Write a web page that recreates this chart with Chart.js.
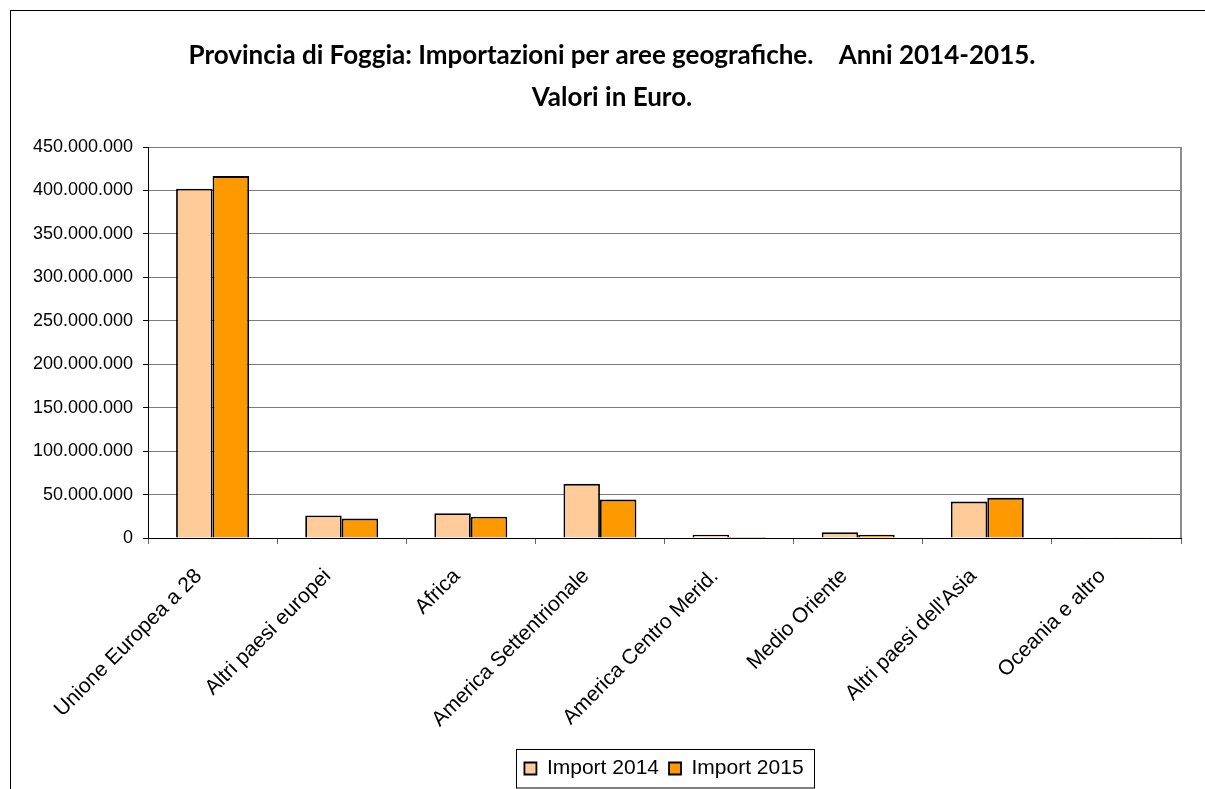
<!DOCTYPE html>
<html>
<head>
<meta charset="utf-8">
<script src="https://cdn.jsdelivr.net/npm/chart.js@4"></script>
<style>
 html,body{margin:0;padding:0;background:#fff;overflow:hidden}
 #frame{position:absolute;left:10px;top:10px;width:1210px;height:800px;border:1px solid #000;box-sizing:border-box}
 #wrap{position:absolute;left:0;top:0;width:1205px;height:789px}
</style>
</head>
<body>
<div id="frame"></div>
<div id="wrap"><canvas id="c" width="1205" height="789"></canvas></div>
<script>
const categories=['Unione Europea a 28','Altri paesi europei','Africa','America Settentrionale','America Centro Merid.','Medio Oriente',"Altri paesi dell'Asia",'Oceania e altro'];
const import2014=[402000000,26000000,28500000,62300000,3800000,6500000,41900000,200000];
const import2015=[416500000,22300000,24600000,44200000,100000,3800000,46200000,150000];
const titleLines=['Provincia di Foggia: Importazioni per aree geografiche.    Anni 2014-2015.','Valori in Euro.'];

const fmt=v=>String(v).replace(/\B(?=(\d{3})+(?!\d))/g,'.');

const extras={
 id:'extras',
 afterLayout(chart){
   // the original centres title and legend a bit right of the plot centre
   const t=chart.titleBlock,l=chart.legend;
   const dt=612-(t.left+t.right)/2;t.left+=dt;t.right+=dt;
   const dl=664-(l.left+l.right)/2;l.left+=dl;l.right+=dl;
 },
 afterDraw(chart){
   const {ctx,chartArea:a,legend:l}=chart;
   ctx.save();
   ctx.strokeStyle='#8c8c8c';ctx.lineWidth=2;
   ctx.beginPath();ctx.moveTo(a.right,a.top);ctx.lineTo(a.right,a.bottom);ctx.stroke();
   const hb=l.legendHitBoxes;
   if(hb&&hb.length){
     const x0=Math.round(hb[0].left-8)+0.5,x1=Math.round(hb[hb.length-1].left+hb[hb.length-1].width+10)+0.5;
     ctx.strokeStyle='#000';ctx.lineWidth=1;
     ctx.strokeRect(x0,749.5,x1-x0,38.5);
   }
   ctx.restore();
 }
};

Chart.defaults.font.family='"Liberation Sans", Arial, sans-serif';
Chart.defaults.color='#000';

new Chart(document.getElementById('c'),{
 type:'bar',
 data:{labels:categories,datasets:[
  {label:'Import 2014',data:import2014,backgroundColor:'#FFCC99',borderColor:'#000',borderWidth:1.8},
  {label:'Import 2015',data:import2015,backgroundColor:'#FF9900',borderColor:'#000',borderWidth:1.8}
 ]},
 options:{
  responsive:false,animation:false,
  layout:{padding:{left:18,right:24,top:0,bottom:0}},
  datasets:{bar:{categoryPercentage:0.565,barPercentage:1}},
  plugins:{
   title:{display:true,text:titleLines,color:'#000',padding:{top:35,bottom:28},
     font:{family:'Lato, "Open Sans", sans-serif',size:26,weight:'bold',lineHeight:'42px'}},
   legend:{position:'bottom',labels:{boxWidth:12,boxHeight:12,font:{size:21},color:'#000',padding:10}},
   tooltip:{enabled:false}
  },
  scales:{
   x:{
    grid:{offset:true,drawOnChartArea:false,drawTicks:true,tickLength:6,color:'#666',lineWidth:1},
    border:{color:'#000',width:1},
    ticks:{minRotation:45,maxRotation:45,autoSkip:false,font:{size:21},padding:20,labelOffset:-14},
    afterFit(s){s.height=210;}
   },
   y:{
    min:0,max:450000000,
    ticks:{stepSize:50000000,callback:v=>fmt(v),font:{size:18},padding:10},
    grid:{color:'#7a7a7a',lineWidth:1,tickLength:5,tickColor:'#000'},
    border:{color:'#000',width:1},
    afterFit(s){s.width=130;}
   }
  }
 },
 plugins:[extras]
});
</script>
</body>
</html>
